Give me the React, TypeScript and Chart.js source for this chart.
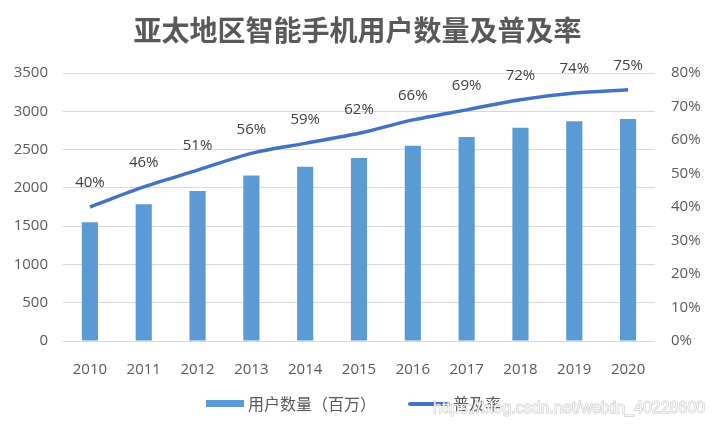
import React, { useEffect, useRef } from "react";
import { Chart, registerables } from "chart.js";

Chart.register(...registerables);

const categories = ["2010", "2011", "2012", "2013", "2014", "2015", "2016", "2017", "2018", "2019", "2020"];
const users = [1550, 1785, 1960, 2160, 2275, 2390, 2550, 2665, 2785, 2870, 2900];
const penetration = [40, 46, 51, 56, 59, 62, 66, 69, 72, 74, 75];
const titleText = "亚太地区智能手机用户数量及普及率";
const seriesNames = ["用户数量（百万）", "普及率"];
const watermark = "https://blog.csdn.net/weixin_40228600";

const BAR_COLOR = "#5B9BD5";
const LINE_COLOR = "#4472C4";
const TEXT_COLOR = "#595959";
const GRID_COLOR = "#d9d9d9";
const NUM_FONT = "'Open Sans', 'Noto Sans', sans-serif";
const CJK_FONT = "'Noto Sans CJK SC', sans-serif";

const labelPlugin = {
  id: "pointLabels",
  afterDatasetsDraw(chart: any) {
    const ctx = chart.ctx;
    const meta = chart.getDatasetMeta(1);
    ctx.save();
    ctx.font = `15px ${NUM_FONT}`;
    ctx.fillStyle = "#404040";
    ctx.textAlign = "center";
    ctx.textBaseline = "middle";
    meta.data.forEach((pt: any, i: number) => {
      ctx.fillText(penetration[i] + "%", pt.x, pt.y - 24);
    });
    ctx.restore();
  },
};

const legendPlugin = {
  id: "customLegend",
  afterDraw(chart: any) {
    const ctx = chart.ctx;
    ctx.save();
    ctx.font = `16px ${CJK_FONT}`;
    ctx.textBaseline = "middle";
    const boxW = 38;
    const textGap = 4;
    const itemGap = 33;
    const w0 = boxW + textGap + ctx.measureText(seriesNames[0]).width;
    const w1 = boxW + 2 + textGap + ctx.measureText(seriesNames[1]).width;
    const total = w0 + itemGap + w1;
    let x = chart.width / 2 - total / 2 - 4;
    const y = 404;
    ctx.fillStyle = BAR_COLOR;
    ctx.fillRect(x, y - 4, boxW, 7);
    ctx.fillStyle = TEXT_COLOR;
    ctx.fillText(seriesNames[0], x + boxW + textGap, y);
    x += w0 + itemGap;
    ctx.strokeStyle = LINE_COLOR;
    ctx.lineWidth = 4;
    ctx.lineCap = "round";
    ctx.beginPath();
    ctx.moveTo(x + 1, y);
    ctx.lineTo(x + boxW + 1, y);
    ctx.stroke();
    ctx.fillStyle = TEXT_COLOR;
    ctx.fillText(seriesNames[1], x + boxW + 2 + textGap, y);
    // watermark
    ctx.font = `16px Arial, 'Liberation Sans', sans-serif`;
    ctx.textAlign = "left";
    ctx.lineWidth = 1;
    ctx.strokeStyle = "rgba(175,175,175,0.75)";
    ctx.fillStyle = "rgba(255,255,255,0.85)";
    ctx.strokeText(watermark, 433, 409);
    ctx.fillText(watermark, 433, 409);
    ctx.restore();
  },
};

export default function App() {
  const ref = useRef<HTMLCanvasElement>(null);
  useEffect(() => {
    if (!ref.current) return;
    const chart = new Chart(ref.current, {
      type: "bar",
      data: {
        labels: categories,
        datasets: [
          {
            type: "bar",
            label: seriesNames[0],
            data: users,
            backgroundColor: BAR_COLOR,
            yAxisID: "y",
            categoryPercentage: 1,
            barPercentage: 0.3,
            order: 2,
          },
          {
            type: "line",
            label: seriesNames[1],
            data: penetration,
            borderColor: LINE_COLOR,
            backgroundColor: LINE_COLOR,
            borderWidth: 3.5,
            pointRadius: 0,
            tension: 0.3,
            yAxisID: "y1",
            order: 1,
          },
        ],
      },
      options: {
        animation: false,
        responsive: true,
        maintainAspectRatio: false,
        layout: { padding: { left: 0, right: 0, top: 0, bottom: 0 } },
        plugins: {
          legend: { display: false },
          tooltip: { enabled: false },
          title: {
            display: true,
            text: titleText,
            color: TEXT_COLOR,
            font: { family: CJK_FONT, size: 28, weight: "bold", lineHeight: 1.2 },
            padding: { top: 13.5, bottom: 25.9 },
          },
        },
        scales: {
          x: {
            grid: { display: false },
            border: { display: false },
            ticks: { color: TEXT_COLOR, font: { family: NUM_FONT, size: 15 }, padding: 12 },
            afterFit(scale: any) {
              scale.height = 87;
            },
          },
          y: {
            position: "left",
            min: 0,
            max: 3500,
            ticks: {
              stepSize: 500,
              color: TEXT_COLOR,
              font: { family: NUM_FONT, size: 15 },
              padding: 15,
              callback: (v: any) => String(v),
            },
            grid: { color: GRID_COLOR, lineWidth: 1, drawTicks: false },
            border: { display: false },
            afterFit(scale: any) {
              scale.width = 63;
            },
          },
          y1: {
            position: "right",
            min: 0,
            max: 80,
            ticks: {
              stepSize: 10,
              color: TEXT_COLOR,
              font: { family: NUM_FONT, size: 15 },
              padding: 16,
              callback: (v: any) => v + "%",
            },
            grid: { display: false, drawTicks: false },
            border: { display: false },
            afterFit(scale: any) {
              scale.width = 60;
            },
          },
        },
      },
      plugins: [labelPlugin, legendPlugin],
    });
    return () => chart.destroy();
  }, []);
  return (
    <div style={{ position: "fixed", left: 0, top: 0, width: 715, height: 428, background: "#fff" }}>
      <canvas ref={ref} />
    </div>
  );
}
